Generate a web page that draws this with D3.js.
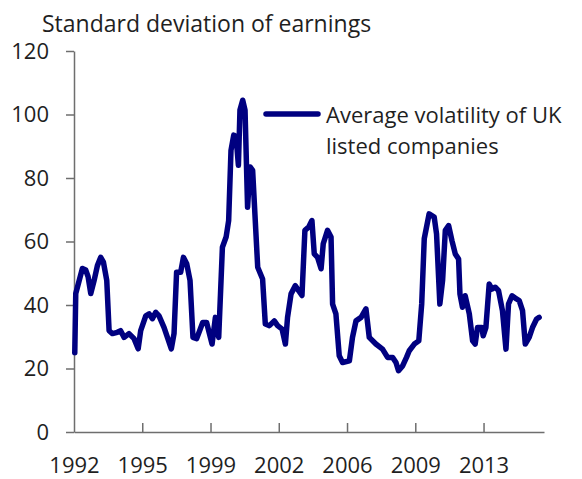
<!DOCTYPE html>
<html>
<head>
<meta charset="utf-8">
<script src="https://cdn.jsdelivr.net/npm/d3@7"></script>
<style>
  body { margin: 0; background: #fff; }
  text { font-family: "Open Sans", sans-serif; fill: #1f1f1f; }
</style>
</head>
<body>
<div id="chart"></div>
<script>
// Data (decimal year, standard deviation of earnings)
let years = [
  1992.04, 1992.09, 1992.43, 1992.60, 1992.72, 1992.86, 1993.03, 1993.20, 1993.37, 1993.51,
  1993.68, 1993.80, 1993.97, 1994.22, 1994.39, 1994.57, 1994.82, 1995.08, 1995.29, 1995.42,
  1995.68, 1995.85, 1996.02, 1996.19, 1996.36, 1996.62, 1996.79, 1996.99, 1997.13, 1997.26,
  1997.47, 1997.61, 1997.78, 1997.95, 1998.10, 1998.29, 1998.60, 1998.80, 1999.08, 1999.25,
  1999.42, 1999.61, 1999.80, 1999.93, 2000.05, 2000.19, 2000.31, 2000.43, 2000.51, 2000.65,
  2000.77, 2000.90, 2001.03, 2001.16, 2001.42, 2001.67, 2001.81, 2002.02, 2002.27, 2002.44,
  2002.67, 2002.84, 2002.95, 2003.13, 2003.35, 2003.52, 2003.69, 2003.84, 2004.03, 2004.20,
  2004.32, 2004.49, 2004.67, 2004.78, 2005.00, 2005.18, 2005.26, 2005.43, 2005.60, 2005.77,
  2006.12, 2006.28, 2006.46, 2006.72, 2006.97, 2007.14, 2007.48, 2007.82, 2008.08, 2008.34,
  2008.51, 2008.64, 2008.85, 2009.05, 2009.19, 2009.45, 2009.68, 2009.83, 2009.96, 2010.21,
  2010.47, 2010.59, 2010.76, 2010.90, 2011.04, 2011.21, 2011.38, 2011.55, 2011.72, 2011.79,
  2011.92, 2012.06, 2012.27, 2012.44, 2012.57, 2012.69, 2012.92, 2012.98, 2013.12, 2013.29,
  2013.43, 2013.60, 2013.77, 2013.97, 2014.15, 2014.28, 2014.46, 2014.69, 2014.83, 2015.00,
  2015.14, 2015.34, 2015.51, 2015.72, 2015.85
]
let volatility = [
  25, 43.6, 51.5, 51, 49, 43.6, 47.7, 52.4, 55, 53.5,
  47.7, 31.9, 31, 31.4, 31.9, 29.8, 31, 29.4, 26.2, 31.9,
  36.6, 37.2, 35.7, 37.7, 36.6, 32.9, 29.8, 26.2, 31, 50.3,
  50.3, 55, 53, 47.7, 29.8, 29.4, 34.5, 34.5, 27.7, 36.1,
  29.8, 58.2, 61.4, 66.6, 88.7, 93.5, 93, 84, 101.4, 104.5,
  101.4, 70.8, 83.5, 82.4, 51.9, 48.2, 34, 33.5, 35, 33.5,
  32.4, 27.7, 36.1, 43.5, 46.1, 44.5, 43, 63.5, 64.5, 66.6,
  56.1, 55, 51.4, 59.3, 63.5, 61.4, 40.3, 37.2, 24, 21.9,
  22.4, 29.8, 35, 36.1, 38.8, 29.8, 27.7, 26.1, 23.5, 23.5,
  21.9, 19.3, 20.8, 23.5, 25.6, 27.7, 28.7, 40.4, 60.9, 68.7,
  67.7, 62.4, 40.3, 47.7, 63.5, 65, 60.3, 56.1, 54.5, 43.5,
  39.3, 42.9, 37.2, 28.7, 27.7, 32.9, 32.9, 30.3, 32.9, 46.6,
  45, 45.6, 44.5, 38.2, 26.1, 40.3, 42.9, 41.9, 41.4, 38.2,
  27.7, 29.8, 32.9, 35.6, 36.1
]

// Axis ticks
let xTickYears = [1992, 1995.5, 1999, 2002.5, 2006, 2009.5, 2013]
let xTickLabels = ["1992", "1995", "1999", "2002", "2006", "2009", "2013"]
let yTicks = [0, 20, 40, 60, 80, 100, 120]

let seriesName = ["Average volatility of UK", "listed companies"]
let yTitle = "Standard deviation of earnings"

let data = years.map((t, i) => ({ t: t, v: volatility[i] }))

draw(data)

function draw(data) {
  var width = 582;
  var height = 479;
  var left = 74, right = 544, top = 51, bottom = 432;
  var axisColor = "#6e6e6e";
  var lineColor = "#000080";

  let svg = d3.select("#chart")
    .append("svg")
    .attr("width", width)
    .attr("height", height)

  let xScale = d3.scaleLinear()
    .domain([1992, 2016.1])
    .range([left, right])
  let yScale = d3.scaleLinear()
    .domain([0, 120])
    .range([bottom, top])

  // y axis
  let yAxis = d3.axisLeft(yScale)
    .tickValues(yTicks)
    .tickSizeInner(8)
    .tickSizeOuter(0)
    .tickPadding(17)

  let gy = svg.append("g")
    .attr("transform", "translate(" + left + ",0)")
    .call(yAxis)
  gy.selectAll("text").style("font-size", "22px").attr("fill", "#1f1f1f")

  // x axis, ticks point up into the plot
  let xAxis = d3.axisBottom(xScale)
    .tickValues(xTickYears)
    .tickFormat((d, i) => xTickLabels[i])
    .tickSizeInner(-9)
    .tickSizeOuter(0)
    .tickPadding(25)

  let gx = svg.append("g")
    .attr("transform", "translate(0," + bottom + ")")
    .call(xAxis)
  gx.selectAll("text").style("font-size", "22px").attr("fill", "#1f1f1f")
  gx.selectAll(".tick").filter(d => d === 1992).select("line").remove()

  svg.selectAll(".domain, .tick line")
    .attr("stroke", axisColor)
    .attr("stroke-width", 1.5)

  // axis title
  svg.append("text")
    .attr("x", 42)
    .attr("y", 32)
    .style("font-size", "23px")
    .text(yTitle)

  // series line
  let line = d3.line()
    .x(d => xScale(d.t))
    .y(d => yScale(d.v))

  svg.append("path")
    .datum(data)
    .attr("d", line)
    .attr("fill", "none")
    .attr("stroke", lineColor)
    .attr("stroke-width", 5.5)
    .attr("stroke-linejoin", "round")
    .attr("stroke-linecap", "round")

  // legend
  svg.append("line")
    .attr("x1", 266)
    .attr("x2", 318)
    .attr("y1", 114)
    .attr("y2", 114)
    .attr("stroke", lineColor)
    .attr("stroke-width", 5.5)
    .attr("stroke-linecap", "round")

  svg.selectAll(".legend-text")
    .data(seriesName)
    .enter().append("text")
    .attr("class", "legend-text")
    .attr("x", 326)
    .attr("y", (d, i) => 123 + i * 31)
    .style("font-size", "22px")
    .text(d => d)
}
</script>
</body>
</html>
